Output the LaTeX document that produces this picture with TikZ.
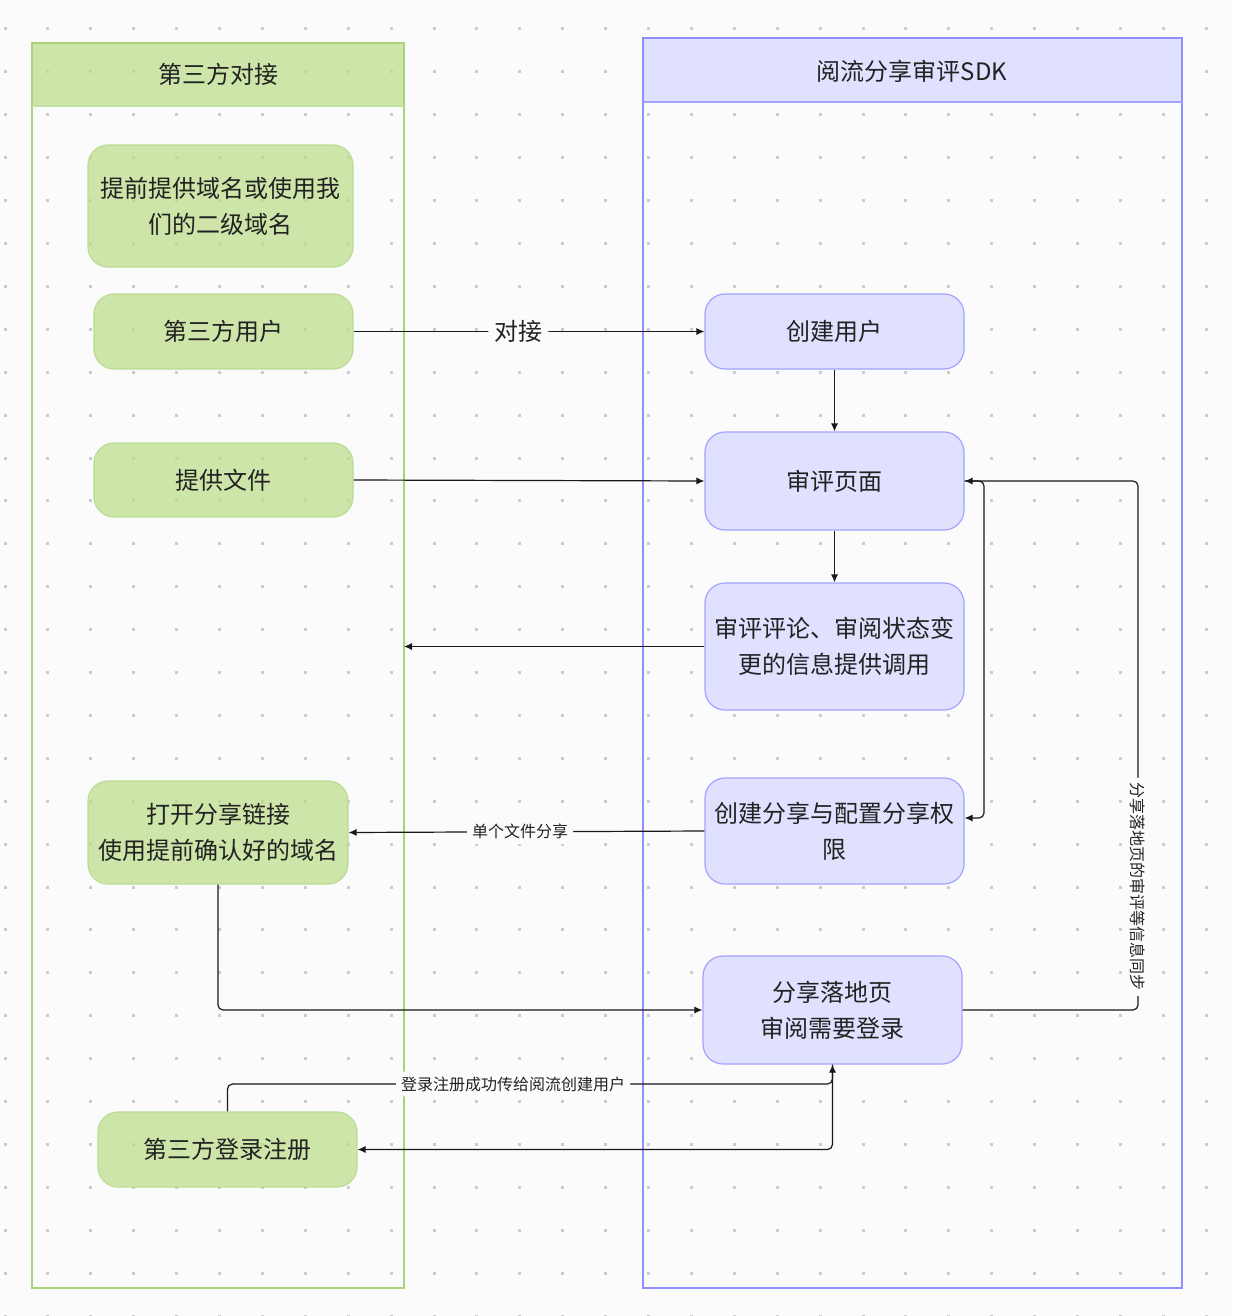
\documentclass[tikz,border=0pt]{standalone}
\usepackage{fontspec}
\setmainfont{Noto Sans CJK SC}
\usetikzlibrary{arrows.meta,calc}
\definecolor{bgc}{HTML}{FBFBFB}
\definecolor{dotc}{HTML}{CCCCCC}
\definecolor{gfill}{RGB}{186,221,134}
\definecolor{gline}{HTML}{A8D47C}
\definecolor{gnline}{HTML}{B9DD94}
\definecolor{pfill}{HTML}{E0E0FF}
\definecolor{pline}{HTML}{8F8FFF}
\definecolor{pnline}{HTML}{A3A3FF}
\definecolor{txt}{HTML}{222222}
\tikzset{
  gbox/.style={draw=gnline, line width=0.6pt, fill=gfill, fill opacity=0.7, text opacity=1, rounded corners=10pt, text=txt, align=center, font=\fontsize{12}{18}\selectfont, inner sep=0pt},
  pbox/.style={draw=pnline, line width=0.6pt, fill=pfill, rounded corners=10pt, text=txt, align=center, font=\fontsize{12}{18}\selectfont, inner sep=0pt},
  arr/.style={draw=black!90, line width=0.6pt, -{Latex[length=4pt,width=3.6pt]}, rounded corners=2.5pt},
  biglbl/.style={fill=bgc, text=txt, font=\fontsize{12}{14}\selectfont, inner sep=3pt},
  smllbl/.style={fill=bgc, text=txt, font=\fontsize{8}{10}\selectfont, inner sep=2.5pt},
  lanehead/.style={text=txt, font=\fontsize{12}{14}\selectfont}
}
\begin{document}
\begin{tikzpicture}[x=0.5pt,y=-0.5pt]
\useasboundingbox (0,0) rectangle (1232,1316);
\fill[bgc] (0,0) rectangle (1232,1316);
% dot grid
\foreach \i in {0,...,28} {
  \foreach \j in {0,...,30} {
    \fill[dotc] ({5+42.9*\i-1.5},{29+42.9*\j-1.5}) rectangle ++(3,3);
  }
}
% lanes
\fill[gfill, fill opacity=0.7] (32,43) rectangle (404,106);
\draw[gline, line width=0.8pt] (32,43) rectangle (404,1288);
\draw[gline!70, line width=0.6pt] (32,106) -- (404,106);
\node[lanehead] (gh) at (218,74) {第三方对接};
\fill[pfill] (643,38) rectangle (1182,102);
\draw[pline, line width=0.7pt] (643,38) rectangle (1182,1288);
\draw[pline!80, line width=0.6pt] (643,102) -- (1182,102);
\node[lanehead] (ph) at (912,71) {阅流分享审评SDK};
% green nodes
\node[gbox, minimum width=132.5pt, minimum height=61pt] (n1) at (220.5,206) {提前提供域名或使用我\\们的二级域名};
\node[gbox, minimum width=129.5pt, minimum height=37.5pt] (n2) at (223.5,331.5) {第三方用户};
\node[gbox, minimum width=129.5pt, minimum height=37pt] (n3) at (223.5,480) {提供文件};
\node[gbox, minimum width=130pt, minimum height=51.5pt] (n4) at (218,832.5) {打开分享链接\\使用提前确认好的域名};
\node[gbox, minimum width=129.5pt, minimum height=37.5pt] (n5) at (227.5,1149.5) {第三方登录注册};
% purple nodes
\node[pbox, minimum width=129.5pt, minimum height=37.5pt] (p1) at (834.5,331.5) {创建用户};
\node[pbox, minimum width=129.5pt, minimum height=49pt] (p2) at (834.5,481) {审评页面};
\node[pbox, minimum width=129.5pt, minimum height=63.5pt] (p3) at (834.5,646.5) {审评评论、审阅状态变\\更的信息提供调用};
\node[pbox, minimum width=129.5pt, minimum height=53pt] (p4) at (834.5,831) {创建分享与配置分享权\\限};
\node[pbox, minimum width=129.5pt, minimum height=54pt] (p5) at (832.5,1010) {分享落地页\\审阅需要登录};
% connectors
\draw[arr] (n2.east) -- node[biglbl, pos=0.47] {对接} (p1.west);
\draw[arr] (p1) -- (p2);
\draw[arr] (n3.east) -- (p2.west);
\draw[arr] (p2) -- (p3);
\coordinate (gedge) at (404,646.5);
\draw[arr] (p3.west) -- (gedge);
\draw[arr] (p4.west) -- node[smllbl, pos=0.518] {单个文件分享} (n4.east);
\coordinate (c1) at (984,481);
\coordinate (c2) at (984,818);
\draw[arr] (p2.east) -- (c1) -- (c2) -- ($(p4.east)+(0,-13)$);
\coordinate (c3) at (1138,1010);
\coordinate (c4) at (1138,481);
\draw[arr] (p5.east) -- (c3) -- node[smllbl, pos=0.233, rotate=-90] {分享落地页的审评等信息同步} (c4) -- (p2.east);
\draw[arr] (n4.south) |- (p5.west);
\coordinate (c5) at (227.5,1084);
\draw[arr] (n5.north) -- (c5) -| node[smllbl, pos=0.236] {登录注册成功传给阅流创建用户} (p5.south);
\draw[arr] (p5.south) |- (n5.east);
\end{tikzpicture}
\end{document}
